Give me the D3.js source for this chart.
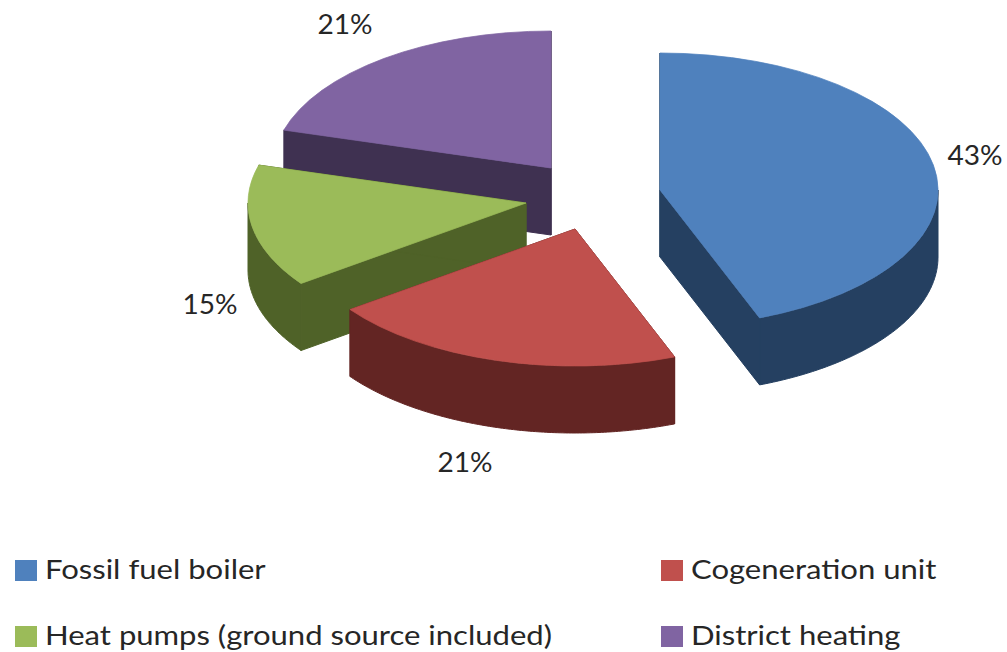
<!DOCTYPE html>
<html>
<head>
<meta charset="utf-8">
<script src="https://cdn.jsdelivr.net/npm/d3@7/dist/d3.min.js"></script>
<style>
  html, body { margin: 0; padding: 0; background: #fff; }
  svg { display: block; }
  text { font-family: Lato, "Open Sans", sans-serif; fill: #262626; }
</style>
</head>
<body>
<svg id="chart" width="1007" height="652"></svg>
<script>
// Heating system shares
const categories = ["Fossil fuel boiler", "Cogeneration unit", "Heat pumps (ground source included)", "District heating"];
const shares = [43, 21, 15, 21];
const topColors = ["#4f81bd", "#c0504d", "#9bbb59", "#8064a2"];
const wallColors = ["#254061", "#632523", "#4f6228", "#3f3151"];

// Where each exploded wedge's tip sits, and where its percentage goes
const tips = [[660, 190], [575, 229], [526, 203], [551, 168]];
const labelSpots = [[975, 158], [465, 465], [210, 307], [345, 27]];
const legendSpots = [[15, 570], [661, 570], [15, 636], [661, 636]];

const rx = 278, ry = 137, depth = 67;
const svg = d3.select("#chart");

// Tilted-view correction: wedge boundaries drift slightly toward the back
const tilt = a => a + 0.077 * Math.pow(Math.sin(a / 2), 2);

const wedges = d3.pie().sort(null).value(d => d)(shares).map((w, i) => ({
  index: i,
  share: w.data,
  startAngle: tilt(w.startAngle),
  endAngle: tilt(w.endAngle)
}));

const rim = (tip, a, drop = 0) => [tip[0] + rx * Math.sin(a), tip[1] - ry * Math.cos(a) + drop];
const wallArea = d3.area().x(d => d[0]).y0(d => d[1]).y1(d => d[1] + depth);
const topArc = d3.arc().innerRadius(0).outerRadius(rx);

// Painted back to front so nearer wedges cover farther walls
const order = [3, 2, 1, 0];
const g = svg.append("g");
order.forEach(i => {
  const w = wedges[i], tip = tips[i];
  const slice = g.append("g");

  // Flat cut faces
  [w.startAngle, w.endAngle].forEach(a => {
    slice.append("path")
      .attr("d", wallArea([tip, rim(tip, a)]))
      .attr("fill", wallColors[i])
      .attr("stroke", wallColors[i]).attr("stroke-width", 1);
  });

  // Curved outer wall: only the part facing the viewer
  const from = Math.max(w.startAngle, Math.PI / 2);
  const to = Math.min(w.endAngle, 3 * Math.PI / 2);
  if (from < to) {
    const steps = d3.range(from, to, 0.01).concat([to]);
    slice.append("path")
      .attr("d", wallArea(steps.map(a => rim(tip, a))))
      .attr("fill", wallColors[i])
      .attr("stroke", wallColors[i]).attr("stroke-width", 1);
  }

  // Top face: a circular wedge squashed into the ellipse
  slice.append("path")
    .attr("d", topArc({ startAngle: w.startAngle, endAngle: w.endAngle }))
    .attr("transform", `translate(${tip[0]},${tip[1]}) scale(1,${ry / rx})`)
    .attr("fill", topColors[i])
    .attr("stroke", topColors[i]).attr("stroke-width", 1);
});

// Percentage labels
svg.append("g").selectAll("text").data(wedges).join("text")
  .attr("transform", d => `translate(${labelSpots[d.index][0]},${labelSpots[d.index][1]}) scale(1.04,1)`)
  .attr("text-anchor", "middle")
  .attr("dominant-baseline", "middle")
  .attr("font-size", 27)
  .text(d => `${d.share}%`);

// Legend, two columns by two rows; the type is set slightly wide
const legend = svg.append("g").selectAll("g").data(categories).join("g")
  .attr("transform", (d, i) => `translate(${legendSpots[i][0]},${legendSpots[i][1]})`);
legend.append("rect")
  .attr("x", 0).attr("y", -10).attr("width", 22).attr("height", 21)
  .attr("fill", (d, i) => topColors[i]);
legend.append("text")
  .attr("transform", "translate(30,2) scale(1.15,1)")
  .attr("dominant-baseline", "middle")
  .attr("font-size", 27)
  .text(d => d);
</script>
</body>
</html>
